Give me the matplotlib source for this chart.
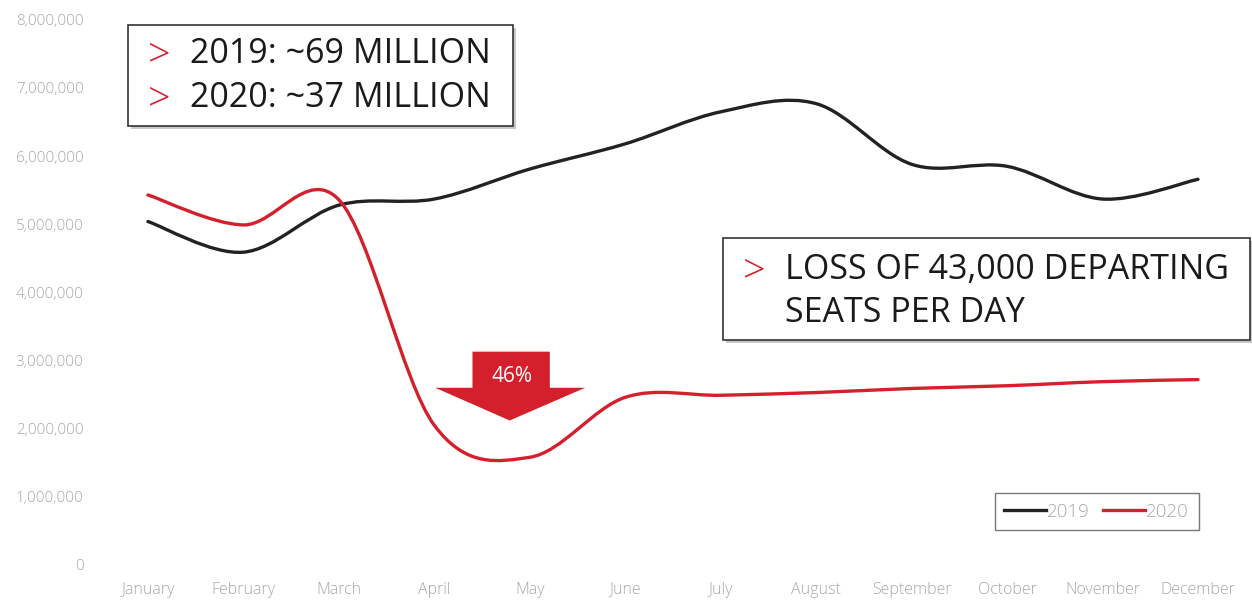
import matplotlib.pyplot as plt
import numpy as np
from matplotlib.path import Path
from matplotlib.patches import PathPatch, Rectangle, Polygon

plt.rcParams["font.family"] = ["Open Sans", "DejaVu Sans"]

months = ["January", "February", "March", "April", "May", "June", "July",
          "August", "September", "October", "November", "December"]
seats_2019 = [5.04e6, 4.59e6, 5.28e6, 5.37e6, 5.81e6, 6.18e6, 6.65e6,
              6.77e6, 5.88e6, 5.85e6, 5.37e6, 5.66e6]
seats_2020 = [5.43e6, 4.99e6, 5.36e6, 2.05e6, 1.58e6, 2.46e6, 2.49e6,
              2.53e6, 2.59e6, 2.63e6, 2.69e6, 2.72e6]
yticks = np.arange(0, 8000001, 1000000)

RED = "#d3202c"
BLACK = "#222222"
GREY = "#a8a8a8"


def smooth_path(xs, ys):
    # Excel-style smoothed line: cubic bezier segments (Catmull-Rom, 1/6 tension)
    p = np.column_stack([xs, ys]).astype(float)
    n = len(p)
    verts = [p[0]]
    codes = [Path.MOVETO]
    for i in range(n - 1):
        p0 = p[max(i - 1, 0)]
        p1 = p[i]
        p2 = p[i + 1]
        p3 = p[min(i + 2, n - 1)]
        c1 = p1 + (p2 - p0) / 6
        c2 = p2 - (p3 - p1) / 6
        verts += [c1, c2, p2]
        codes += [Path.CURVE4] * 3
    return Path(verts, codes)


fig = plt.figure(figsize=(12.52, 6.01), dpi=100)
ax = fig.add_axes([0.08, 0.06, 0.915, 0.907])

x = np.arange(len(months))
for vals, col, lab in [(seats_2019, BLACK, "2019"), (seats_2020, RED, "2020")]:
    ax.add_patch(PathPatch(smooth_path(x, vals), fill=False, edgecolor=col,
                           lw=2.4, capstyle="round"))
    ax.plot([], [], color=col, lw=2.4, label=lab)

ax.set_xlim(-0.5, 11.5)
ax.set_ylim(0, 8000000)
ax.set_xticks(x)
ax.set_xticklabels(months, fontsize=11.5, color=GREY, fontweight="light")
ax.set_yticks(yticks)
ax.set_yticklabels([f"{v:,}" for v in yticks], fontsize=11, color=GREY,
                   fontweight="light")
ax.tick_params(axis="x", length=0, pad=12)
ax.tick_params(axis="y", length=0, pad=12)
for s in ax.spines.values():
    s.set_visible(False)

# 46% block arrow
arrow = Polygon([(3.40, 3.13e6), (4.21, 3.13e6), (4.21, 2.60e6), (4.58, 2.60e6),
                 (3.79, 2.12e6), (3.01, 2.60e6), (3.40, 2.60e6)],
                closed=True, facecolor=RED, edgecolor="none", zorder=4)
ax.add_patch(arrow)
ax.text(3.81, 2.77e6, "46%", color="white", fontsize=15, ha="center",
        va="center", zorder=5)

leg = ax.legend(loc="lower right", bbox_to_anchor=(0.967, 0.047), ncol=2,
                frameon=True, fancybox=False, fontsize=13.5, handlelength=2.2,
                handletextpad=0.1, columnspacing=0.7, borderpad=0.5)
leg.get_frame().set_edgecolor("#555555")
leg.get_frame().set_linewidth(1.0)
for t in leg.get_texts():
    t.set_color(GREY)
    t.set_fontweight("light")

W, H = 1252, 601


def callout(x0, y0, x1, y1, lines, tx, ty, dy, fs):
    # box in pixel coordinates (top-left origin)
    fig.patches.append(Rectangle(((x0 + 3) / W, 1 - (y1 + 3) / H), (x1 - x0) / W,
                                 (y1 - y0) / H, transform=fig.transFigure,
                                 facecolor="#c8c8c8", edgecolor="none", zorder=1))
    fig.patches.append(Rectangle((x0 / W, 1 - y1 / H), (x1 - x0) / W,
                                 (y1 - y0) / H, transform=fig.transFigure,
                                 facecolor="white", edgecolor="#333333", lw=1.2,
                                 zorder=2))
    for i, (mark, txt) in enumerate(lines):
        yy = 1 - (ty + i * dy) / H
        if mark:
            fig.text((x0 + 20) / W, yy - 2 / H, ">", color=RED, fontsize=fs + 4,
                     va="center", ha="left", zorder=3, fontweight="light")
        fig.text(tx / W, yy, txt, color="#1a1a1a", fontsize=fs,
                 va="center", ha="left", zorder=3)


callout(128, 25, 513, 126,
        [(True, "2019: ~69 MILLION"), (True, "2020: ~37 MILLION")],
        190, 54, 44, 24.5)
callout(723, 238, 1250, 340,
        [(True, "LOSS OF 43,000 DEPARTING"), (False, "SEATS PER DAY")],
        785, 270, 43, 24.5)

fig.savefig("out.png", dpi=100)
